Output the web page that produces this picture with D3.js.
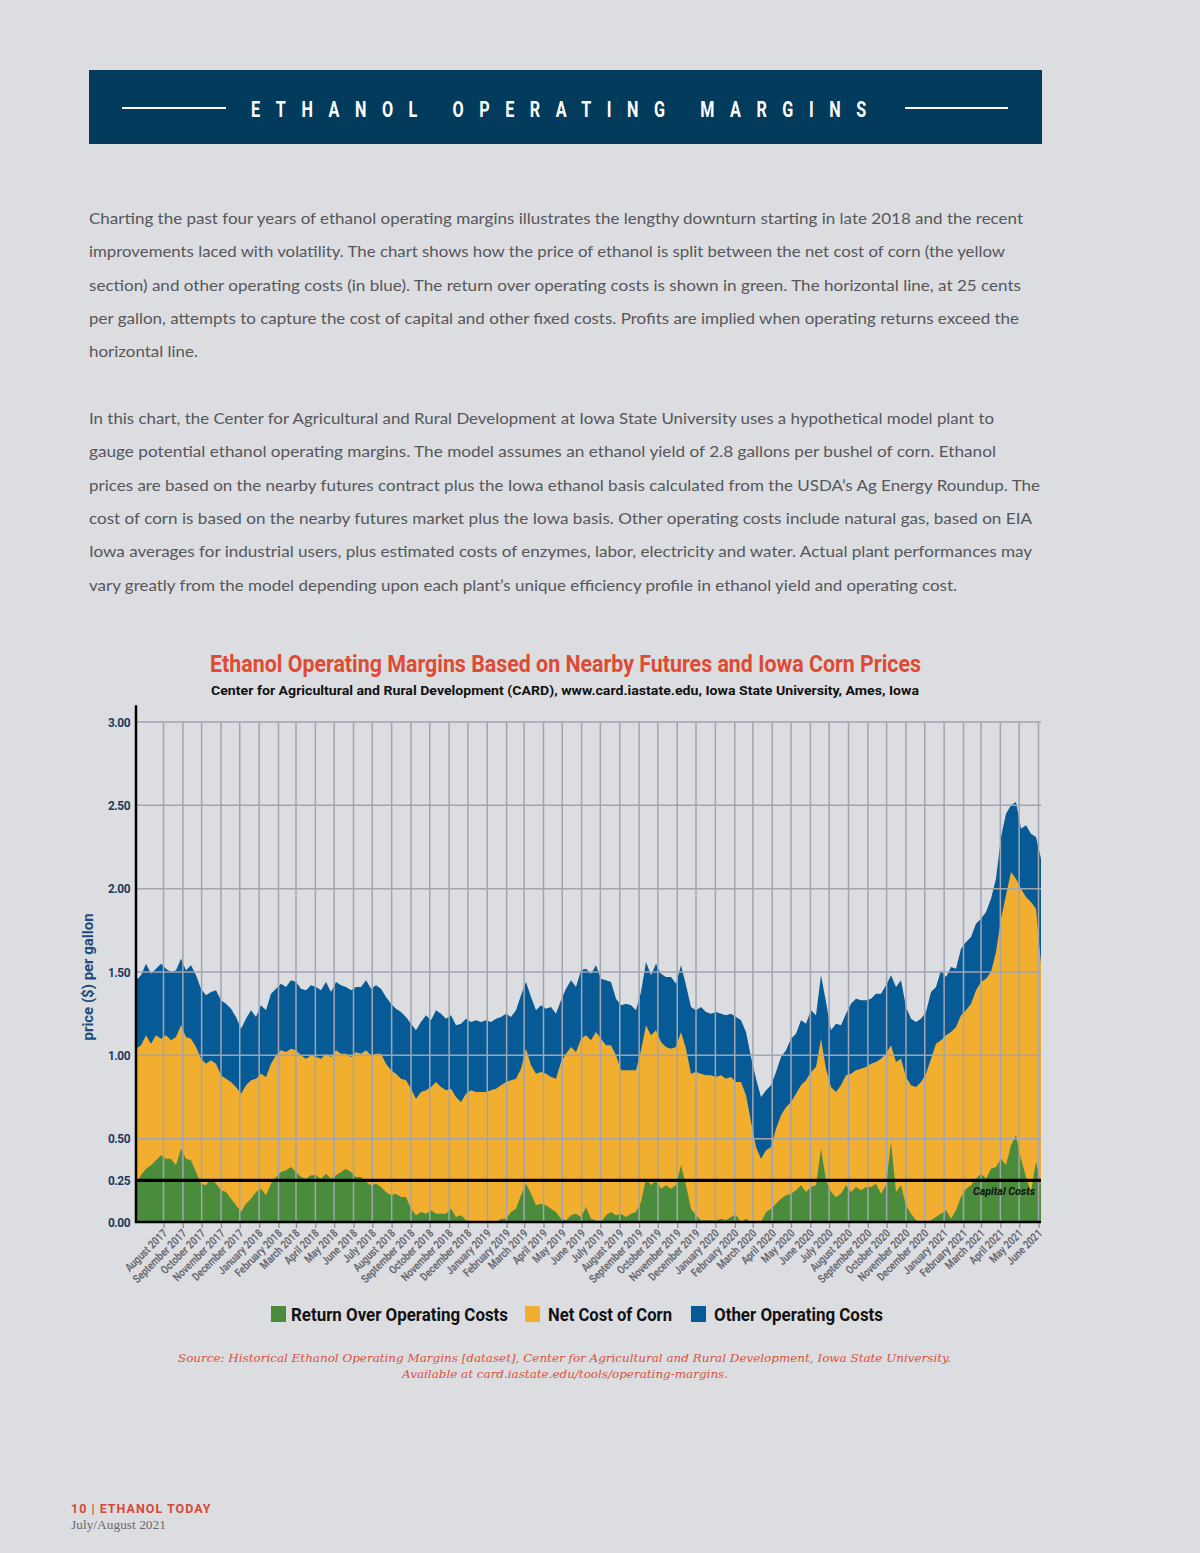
<!DOCTYPE html>
<html><head><meta charset="utf-8">
<script src="https://cdn.jsdelivr.net/npm/d3@7"></script>
<style>
html,body{margin:0;padding:0;background:#dcdde1;}
svg{display:block;}
</style></head><body>
<svg id="page" width="1200" height="1553"></svg>
<script>
// ---------------- DATA ----------------
const seriesStart = "2017-06-18";   // first observation
const stepDays = 8;                 // spacing of observations (days)
// top of blue = ethanol price ($/gal)
const ethanolPrice = [
1.45,1.48,1.55,1.49,1.52,1.55,1.52,1.50,1.51,1.58,1.51,1.54,1.48,1.40,1.36,1.38,1.39,1.33,1.31,1.28,
1.23,1.16,1.22,1.27,1.23,1.30,1.27,1.37,1.40,1.43,1.41,1.45,1.44,1.40,1.39,1.42,1.41,1.39,1.44,1.38,
1.44,1.42,1.41,1.39,1.41,1.41,1.45,1.40,1.42,1.40,1.35,1.31,1.28,1.26,1.23,1.19,1.15,1.20,1.24,1.21,1.27,
1.25,1.22,1.24,1.18,1.19,1.22,1.20,1.21,1.20,1.21,1.20,1.22,1.23,1.25,1.23,1.27,1.36,1.44,1.35,1.27,
1.30,1.28,1.29,1.25,1.33,1.40,1.45,1.41,1.51,1.52,1.49,1.54,1.46,1.45,1.44,1.34,1.30,1.31,1.30,1.27,
1.38,1.56,1.48,1.55,1.49,1.47,1.47,1.43,1.54,1.42,1.29,1.27,1.29,1.26,1.25,1.26,1.25,1.24,1.25,1.23,
1.21,1.14,0.99,0.86,0.75,0.79,0.82,0.90,0.99,1.03,1.10,1.13,1.21,1.19,1.27,1.24,1.48,1.32,1.15,1.19,
1.18,1.25,1.31,1.34,1.33,1.33,1.34,1.37,1.37,1.42,1.48,1.41,1.45,1.29,1.22,1.20,1.22,1.26,1.38,1.41,
1.51,1.47,1.53,1.52,1.64,1.68,1.71,1.79,1.82,1.86,1.94,2.06,2.31,2.45,2.50,2.52,2.36,2.38,2.33,2.31,2.18];
// top of yellow = ethanol price minus other operating costs
const priceLessOtherCosts = [
1.04,1.06,1.12,1.07,1.12,1.10,1.12,1.09,1.11,1.18,1.11,1.10,1.05,0.98,0.95,0.97,0.95,0.88,0.86,0.84,
0.81,0.77,0.82,0.85,0.86,0.89,0.87,0.95,1.00,1.03,1.02,1.04,1.03,1.00,0.98,1.00,0.99,0.98,1.01,0.99,
1.03,1.01,1.01,0.99,1.02,1.01,1.03,1.00,1.01,1.01,0.95,0.91,0.89,0.86,0.85,0.80,0.74,0.78,0.79,0.81,0.84,
0.81,0.79,0.80,0.75,0.72,0.77,0.79,0.78,0.78,0.78,0.79,0.80,0.82,0.84,0.85,0.86,0.92,1.04,0.94,0.89,
0.90,0.89,0.87,0.86,0.96,1.01,1.05,1.02,1.10,1.12,1.09,1.14,1.10,1.06,1.06,1.00,0.91,0.91,0.91,0.91,
1.03,1.18,1.12,1.15,1.08,1.05,1.04,1.05,1.14,1.04,0.89,0.90,0.89,0.88,0.88,0.87,0.88,0.86,0.87,0.84,
0.84,0.76,0.60,0.45,0.38,0.43,0.45,0.56,0.64,0.69,0.72,0.77,0.82,0.85,0.90,0.93,1.10,0.92,0.81,0.78,
0.82,0.88,0.89,0.91,0.92,0.93,0.95,0.96,0.98,1.01,1.06,0.96,0.98,0.87,0.82,0.81,0.84,0.89,0.98,1.07,
1.09,1.12,1.14,1.17,1.24,1.27,1.31,1.39,1.44,1.46,1.50,1.62,1.82,1.96,2.10,2.06,2.00,1.95,1.92,1.88,1.55];
// green = return over operating costs (shown when positive)
const returnOverOperatingCosts = [
0.23,0.28,0.32,0.34,0.37,0.40,0.38,0.38,0.34,0.44,0.38,0.37,0.30,0.23,0.22,0.26,0.23,0.19,0.18,0.14,
0.10,0.06,0.11,0.14,0.18,0.20,0.16,0.23,0.27,0.30,0.31,0.33,0.30,0.27,0.26,0.28,0.28,0.26,0.29,0.26,
0.28,0.30,0.32,0.30,0.27,0.27,0.24,0.22,0.23,0.21,0.18,0.16,0.17,0.15,0.15,0.08,0.04,0.06,0.05,0.07,0.05,
0.05,0.05,0.08,0.03,0.04,0.01,0,0,0,0,0,0,0.02,0.02,0.06,0.08,0.16,0.23,0.17,0.10,
0.11,0.10,0.08,0.06,0.02,0.01,0.04,0.05,0.03,0.09,0.02,0.01,0,0.04,0.06,0.04,0.05,0.03,0.05,0.06,
0.12,0.26,0.22,0.25,0.20,0.22,0.20,0.22,0.34,0.22,0.08,0.04,0.01,0.01,0.01,0.01,0.02,0.01,0.03,0.04,
0,0.02,0,0,0,0.06,0.08,0.11,0.14,0.16,0.17,0.19,0.22,0.18,0.21,0.22,0.44,0.25,0.18,0.15,
0.17,0.22,0.18,0.21,0.19,0.21,0.21,0.23,0.17,0.22,0.48,0.18,0.22,0.10,0.05,0.01,0,0,0.01,0.03,
0.05,0.07,0.02,0.07,0.15,0.20,0.22,0.26,0.29,0.26,0.32,0.33,0.38,0.34,0.46,0.52,0.38,0.27,0.18,0.36,0.22];
const yTicks = [0, 0.25, 0.5, 1, 1.5, 2, 2.5, 3];
const gridValues = [0.5, 1, 1.5, 2, 2.5, 3];
const capitalCost = 0.25;
const monthTickFirst = "2017-08-01";
const monthTickLast = "2021-06-01";
const legendLabels = ["Return Over Operating Costs", "Net Cost of Corn", "Other Operating Costs"];

// ---------------- STYLE ----------------
const C = {green:"#4a8b3c", yellow:"#f2af2f", blue:"#065a95", grid:"#a2a5b0", navy:"#033b5c",
           red:"#e04a33", text:"#56575b"};
const COND = "Roboto, 'Liberation Sans', Arial, sans-serif";

const svg = d3.select("#page");
svg.append("rect").attr("width",1200).attr("height",1553).attr("fill","#dcdde1");

function fit(sel, w, mode){ sel.attr("textLength", w).attr("lengthAdjust", mode || "spacingAndGlyphs"); return sel; }

// banner
svg.append("rect").attr("x",89).attr("y",70).attr("width",953).attr("height",74).attr("fill",C.navy);
svg.append("line").attr("x1",122).attr("x2",226).attr("y1",108).attr("y2",108).attr("stroke","#fff").attr("stroke-width",2);
svg.append("line").attr("x1",905).attr("x2",1008).attr("y1",108).attr("y2",108).attr("stroke","#fff").attr("stroke-width",2);
fit(svg.append("text").attr("transform","translate(251,116.5) scale(0.72,1)").attr("fill","#fff").attr("font-family",COND)
   .attr("font-weight",700).attr("font-size",22.5).attr("letter-spacing",22)
   .text("ETHANOL  OPERATING  MARGINS"), 631/0.72, "spacing");

// intro paragraphs
const paraLines = [
 ["Charting the past four years of ethanol operating margins illustrates the lengthy downturn starting in late 2018 and the recent",224,934],
 ["improvements laced with volatility. The chart shows how the price of ethanol is split between the net cost of corn (the yellow",257,916],
 ["section) and other operating costs (in blue). The return over operating costs is shown in green. The horizontal line, at 25 cents",291,932],
 ["per gallon, attempts to capture the cost of capital and other fixed costs. Profits are implied when operating returns exceed the",324,930],
 ["horizontal line.",357,109],
 ["In this chart, the Center for Agricultural and Rural Development at Iowa State University uses a hypothetical model plant to",424,905],
 ["gauge potential ethanol operating margins. The model assumes an ethanol yield of 2.8 gallons per bushel of corn. Ethanol",457,907],
 ["prices are based on the nearby futures contract plus the Iowa ethanol basis calculated from the USDA\u2019s Ag Energy Roundup. The",491,951],
 ["cost of corn is based on the nearby futures market plus the Iowa basis. Other operating costs include natural gas, based on EIA",524,943],
 ["Iowa averages for industrial users, plus estimated costs of enzymes, labor, electricity and water. Actual plant performances may",557,943],
 ["vary greatly from the model depending upon each plant\u2019s unique efficiency profile in ethanol yield and operating cost.",591,868]
];
paraLines.forEach(([t,y,w])=>{
  fit(svg.append("text").attr("x",89).attr("y",y).attr("fill",C.text).attr("font-family","Lato, 'Open Sans', sans-serif")
     .attr("font-size",16).text(t), w);
});

// chart titles
fit(svg.append("text").attr("x",210).attr("y",672).attr("fill",C.red).attr("font-family",COND)
   .attr("font-weight",700).attr("font-size",24)
   .text("Ethanol Operating Margins Based on Nearby Futures and Iowa Corn Prices"), 711);
fit(svg.append("text").attr("x",211).attr("y",695).attr("fill","#111").attr("font-family",COND)
   .attr("font-weight",700).attr("font-size",13.5)
   .text("Center for Agricultural and Rural Development (CARD), www.card.iastate.edu, Iowa State University, Ames, Iowa"), 708);

// ---------------- CHART ----------------
const parse = d3.utcParse("%Y-%m-%d");
const t0 = parse(seriesStart);
const rows = ethanolPrice.map((p,i)=>({
  date: d3.utcDay.offset(t0, i*stepDays),
  price: p, yellow: priceLessOtherCosts[i], green: Math.max(0, returnOverOperatingCosts[i])
}));

const x = d3.scaleUtc().domain([rows[0].date, rows[rows.length-1].date]).range([136, 1041]);
const y = d3.scaleLinear().domain([0, 3]).range([1222, 722]);

const plot = svg.append("g");
const layers = [["price",C.blue],["yellow",C.yellow],["green",C.green]];
layers.forEach(([k,col])=>{
  plot.append("path").datum(rows).attr("fill",col)
    .attr("d", d3.area().x(d=>x(d.date)).y0(y(0)).y1(d=>y(d[k])));
});

// grid
const months = d3.utcMonth.range(parse(monthTickFirst), d3.utcDay.offset(parse(monthTickLast),1));
plot.append("g").selectAll("line").data(months).join("line")
  .attr("x1",d=>x(d)).attr("x2",d=>x(d)).attr("y1",y(3)).attr("y2",y(0))
  .attr("stroke",C.grid).attr("stroke-width",1.5);
plot.append("g").selectAll("line").data(gridValues).join("line")
  .attr("x1",136).attr("x2",1041).attr("y1",d=>y(d)).attr("y2",d=>y(d))
  .attr("stroke",C.grid).attr("stroke-width",1.5);

// capital cost line
plot.append("line").attr("x1",136).attr("x2",1041).attr("y1",y(capitalCost)).attr("y2",y(capitalCost))
  .attr("stroke","#000").attr("stroke-width",3.2);
fit(plot.append("text").attr("x",973).attr("y",y(capitalCost)+15).attr("font-family",COND)
  .attr("font-weight",700).attr("font-style","italic").attr("font-size",11).attr("fill","#111")
  .text("Capital Costs"), 62);

// y axis
const yAxis = svg.append("g").attr("transform","translate(136,0)")
  .call(d3.axisLeft(y).tickValues(yTicks).tickFormat(d3.format(".2f")).tickSize(0).tickPadding(6));
yAxis.select(".domain").remove();
yAxis.selectAll("text").attr("font-family",COND).attr("font-weight",700).attr("font-size",12.5)
  .attr("fill","#1d3a5d").attr("textLength",22).attr("lengthAdjust","spacingAndGlyphs").attr("letter-spacing",-0.5);
svg.append("line").attr("x1",136).attr("x2",136).attr("y1",y(3.1)).attr("y2",y(0)+1).attr("stroke","#000").attr("stroke-width",2.5);

// x axis
const xAxis = svg.append("g").attr("transform",`translate(0,${y(0)})`)
  .call(d3.axisBottom(x).tickValues(months).tickFormat(d3.utcFormat("%B %Y")).tickSize(6));
xAxis.select(".domain").remove();
xAxis.selectAll(".tick line").attr("stroke","#8e909a").attr("stroke-width",1.3);
xAxis.selectAll("text").attr("x",0).attr("y",0).attr("dy",0)
  .attr("transform","translate(4,12) rotate(-45)").style("text-anchor","end")
  .attr("font-family",COND).attr("font-weight",700).attr("font-size",11.5).attr("fill","#6a6b74")
  .each(function(){ const n=this.getComputedTextLength(); d3.select(this).attr("textLength",n*0.82).attr("lengthAdjust","spacingAndGlyphs"); });
svg.append("line").attr("x1",135).attr("x2",1041).attr("y1",y(0)).attr("y2",y(0)).attr("stroke","#000").attr("stroke-width",2.5);

// y title
fit(svg.append("text").attr("transform","translate(93,977) rotate(-90)").attr("text-anchor","middle")
  .attr("font-family",COND).attr("font-weight",700).attr("font-size",14.5).attr("fill","#1f4c7b")
  .text("price ($) per gallon"), 127);

// legend
const legendX = [[271,291,217],[525,548,124],[691,714,169]];
const legendCols = [C.green, C.yellow, C.blue];
legendLabels.forEach((lab,i)=>{
  const [sx,tx,w] = legendX[i];
  svg.append("rect").attr("x",sx).attr("y",1306).attr("width",15).attr("height",16).attr("fill",legendCols[i]);
  fit(svg.append("text").attr("x",tx).attr("y",1321).attr("font-family",COND).attr("font-weight",700)
    .attr("font-size",18.5).attr("fill","#111").text(lab), w);
});

// source
fit(svg.append("text").attr("x",178).attr("y",1362).attr("font-family","'DejaVu Serif','Liberation Serif',serif")
  .attr("font-style","italic").attr("font-size",11.5).attr("fill","#d9523c")
  .text("Source: Historical Ethanol Operating Margins [dataset], Center for Agricultural and Rural Development, Iowa State University."), 773);
fit(svg.append("text").attr("x",402).attr("y",1378).attr("font-family","'DejaVu Serif','Liberation Serif',serif")
  .attr("font-style","italic").attr("font-size",11.5).attr("fill","#d9523c")
  .text("Available at card.iastate.edu/tools/operating-margins."), 326);

// footer
fit(svg.append("text").attr("x",71).attr("y",1513).attr("font-family",COND).attr("font-weight",700)
  .attr("font-size",12.5).attr("fill","#d64a35").attr("letter-spacing",1.5).text("10 | ETHANOL TODAY"), 141, "spacing");
fit(svg.append("text").attr("x",71).attr("y",1529).attr("font-family","'Liberation Serif','DejaVu Serif',serif")
  .attr("font-size",12.5).attr("fill","#6a6a6a").text("July/August 2021"), 95);
</script>
</body></html>
